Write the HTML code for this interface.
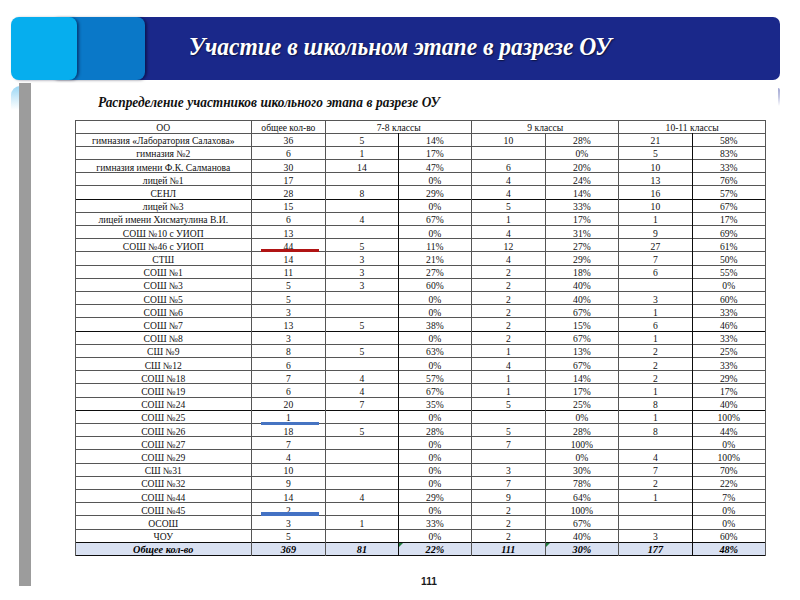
<!DOCTYPE html>
<html><head><meta charset="utf-8">
<style>
html,body{margin:0;padding:0;background:#fff;}
body{width:800px;height:600px;position:relative;overflow:hidden;font-family:"Liberation Serif",serif;}
.c{position:absolute;text-align:center;font-size:9.6px;color:#111;white-space:nowrap;font-family:"Liberation Serif",serif;}
.c.t{font-weight:bold;font-style:italic;font-size:10.2px;color:#000;}
.h{position:absolute;height:1px;background:#565656;}
.v{position:absolute;width:1px;background:#565656;}
.h.d{background:#0c0c0c;height:1.25px;}
.v.d{background:#0c0c0c;width:1.3px;}
#bar{position:absolute;left:19px;top:83px;width:11.5px;height:503px;background:#9c9c9c;}
#glow{position:absolute;left:10.5px;top:85.5px;width:9px;height:24px;border-radius:9px 0 0 0;background:linear-gradient(to bottom,rgba(90,190,240,0.62),rgba(120,200,240,0.35) 50%,rgba(120,200,240,0));}
#glowr{position:absolute;left:777.6px;top:88px;width:2.2px;height:18px;border-radius:0 2px 0 0;background:linear-gradient(to bottom,rgba(140,146,200,0.8),rgba(150,156,205,0.55) 50%,rgba(150,156,205,0));}
#dark{position:absolute;left:120px;top:17px;width:660px;height:63.2px;background:#1a288a;border-radius:7px;}
#mid{position:absolute;left:50px;top:17px;width:94.7px;height:63.2px;background:#0a78c8;border-radius:8px;box-shadow:2px 0.5px 3px -0.5px rgba(0,0,30,0.5);}
#light{position:absolute;left:11px;top:17px;width:66.2px;height:63.2px;background:#06aeee;border-radius:8px;box-shadow:2px 0.5px 3px -0.5px rgba(0,0,40,0.5);}
#title{position:absolute;left:0px;top:17px;width:800px;height:63px;line-height:59.5px;text-align:center;color:#fff;font-weight:bold;font-style:italic;font-size:24.8px;transform:scaleX(0.948);text-shadow:1px 1px 1.5px rgba(0,0,0,0.55);white-space:nowrap;}
#sub{position:absolute;left:97.5px;top:94.5px;word-spacing:0.2px;font-weight:bold;font-style:italic;font-size:13.8px;color:#111;white-space:nowrap;transform-origin:0 0;transform:scaleX(0.968);}
#pn{position:absolute;left:399px;top:575.1px;width:60px;text-align:center;font-family:"Liberation Sans",sans-serif;font-weight:bold;font-size:10.6px;transform:scaleX(0.96);color:#1a1a1a;}
</style></head><body>
<div id="glow"></div><div id="bar"></div><div id="glowr"></div>
<div id="dark"></div><div id="mid"></div><div id="light"></div>
<div id="title">Участие в школьном этапе в разрезе ОУ</div>
<div id="sub">Распределение участников школьного этапа в разрезе ОУ</div>
<div style="position:absolute;left:75.5px;top:542.30px;width:690.0px;height:13.20px;background:#d9e1f2"></div>
<div class="c " style="left:75.50px;top:120.00px;width:175.50px;height:13.20px;line-height:16.60px">ОО</div>
<div class="c " style="left:251.00px;top:120.00px;width:74.75px;height:13.20px;line-height:16.60px">общее кол-во</div>
<div class="c " style="left:325.75px;top:120.00px;width:146.00px;height:13.20px;line-height:16.60px">7-8 классы</div>
<div class="c " style="left:471.75px;top:120.00px;width:147.00px;height:13.20px;line-height:16.60px">9 классы</div>
<div class="c " style="left:618.75px;top:120.00px;width:146.75px;height:13.20px;line-height:16.60px">10-11 классы</div>
<div class="c " style="left:75.50px;top:133.20px;width:175.50px;height:13.20px;line-height:16.60px">гимназия «Лаборатория Салахова»</div>
<div class="c " style="left:251.00px;top:133.20px;width:74.75px;height:13.20px;line-height:16.60px">36</div>
<div class="c " style="left:325.75px;top:133.20px;width:72.25px;height:13.20px;line-height:16.60px">5</div>
<div class="c " style="left:398.00px;top:133.20px;width:73.75px;height:13.20px;line-height:16.60px">14%</div>
<div class="c " style="left:471.75px;top:133.20px;width:73.25px;height:13.20px;line-height:16.60px">10</div>
<div class="c " style="left:545.00px;top:133.20px;width:73.75px;height:13.20px;line-height:16.60px">28%</div>
<div class="c " style="left:618.75px;top:133.20px;width:73.25px;height:13.20px;line-height:16.60px">21</div>
<div class="c " style="left:692.00px;top:133.20px;width:73.50px;height:13.20px;line-height:16.60px">58%</div>
<div class="c " style="left:75.50px;top:146.39px;width:175.50px;height:13.20px;line-height:16.60px">гимназия №2</div>
<div class="c " style="left:251.00px;top:146.39px;width:74.75px;height:13.20px;line-height:16.60px">6</div>
<div class="c " style="left:325.75px;top:146.39px;width:72.25px;height:13.20px;line-height:16.60px">1</div>
<div class="c " style="left:398.00px;top:146.39px;width:73.75px;height:13.20px;line-height:16.60px">17%</div>
<div class="c " style="left:545.00px;top:146.39px;width:73.75px;height:13.20px;line-height:16.60px">0%</div>
<div class="c " style="left:618.75px;top:146.39px;width:73.25px;height:13.20px;line-height:16.60px">5</div>
<div class="c " style="left:692.00px;top:146.39px;width:73.50px;height:13.20px;line-height:16.60px">83%</div>
<div class="c " style="left:75.50px;top:159.59px;width:175.50px;height:13.20px;line-height:16.60px">гимназия имени Ф.К. Салманова</div>
<div class="c " style="left:251.00px;top:159.59px;width:74.75px;height:13.20px;line-height:16.60px">30</div>
<div class="c " style="left:325.75px;top:159.59px;width:72.25px;height:13.20px;line-height:16.60px">14</div>
<div class="c " style="left:398.00px;top:159.59px;width:73.75px;height:13.20px;line-height:16.60px">47%</div>
<div class="c " style="left:471.75px;top:159.59px;width:73.25px;height:13.20px;line-height:16.60px">6</div>
<div class="c " style="left:545.00px;top:159.59px;width:73.75px;height:13.20px;line-height:16.60px">20%</div>
<div class="c " style="left:618.75px;top:159.59px;width:73.25px;height:13.20px;line-height:16.60px">10</div>
<div class="c " style="left:692.00px;top:159.59px;width:73.50px;height:13.20px;line-height:16.60px">33%</div>
<div class="c " style="left:75.50px;top:172.79px;width:175.50px;height:13.20px;line-height:16.60px">лицей №1</div>
<div class="c " style="left:251.00px;top:172.79px;width:74.75px;height:13.20px;line-height:16.60px">17</div>
<div class="c " style="left:398.00px;top:172.79px;width:73.75px;height:13.20px;line-height:16.60px">0%</div>
<div class="c " style="left:471.75px;top:172.79px;width:73.25px;height:13.20px;line-height:16.60px">4</div>
<div class="c " style="left:545.00px;top:172.79px;width:73.75px;height:13.20px;line-height:16.60px">24%</div>
<div class="c " style="left:618.75px;top:172.79px;width:73.25px;height:13.20px;line-height:16.60px">13</div>
<div class="c " style="left:692.00px;top:172.79px;width:73.50px;height:13.20px;line-height:16.60px">76%</div>
<div class="c " style="left:75.50px;top:185.98px;width:175.50px;height:13.20px;line-height:16.60px">СЕНЛ</div>
<div class="c " style="left:251.00px;top:185.98px;width:74.75px;height:13.20px;line-height:16.60px">28</div>
<div class="c " style="left:325.75px;top:185.98px;width:72.25px;height:13.20px;line-height:16.60px">8</div>
<div class="c " style="left:398.00px;top:185.98px;width:73.75px;height:13.20px;line-height:16.60px">29%</div>
<div class="c " style="left:471.75px;top:185.98px;width:73.25px;height:13.20px;line-height:16.60px">4</div>
<div class="c " style="left:545.00px;top:185.98px;width:73.75px;height:13.20px;line-height:16.60px">14%</div>
<div class="c " style="left:618.75px;top:185.98px;width:73.25px;height:13.20px;line-height:16.60px">16</div>
<div class="c " style="left:692.00px;top:185.98px;width:73.50px;height:13.20px;line-height:16.60px">57%</div>
<div class="c " style="left:75.50px;top:199.18px;width:175.50px;height:13.20px;line-height:16.60px">лицей №3</div>
<div class="c " style="left:251.00px;top:199.18px;width:74.75px;height:13.20px;line-height:16.60px">15</div>
<div class="c " style="left:398.00px;top:199.18px;width:73.75px;height:13.20px;line-height:16.60px">0%</div>
<div class="c " style="left:471.75px;top:199.18px;width:73.25px;height:13.20px;line-height:16.60px">5</div>
<div class="c " style="left:545.00px;top:199.18px;width:73.75px;height:13.20px;line-height:16.60px">33%</div>
<div class="c " style="left:618.75px;top:199.18px;width:73.25px;height:13.20px;line-height:16.60px">10</div>
<div class="c " style="left:692.00px;top:199.18px;width:73.50px;height:13.20px;line-height:16.60px">67%</div>
<div class="c " style="left:75.50px;top:212.38px;width:175.50px;height:13.20px;line-height:16.60px">лицей имени Хисматулина В.И.</div>
<div class="c " style="left:251.00px;top:212.38px;width:74.75px;height:13.20px;line-height:16.60px">6</div>
<div class="c " style="left:325.75px;top:212.38px;width:72.25px;height:13.20px;line-height:16.60px">4</div>
<div class="c " style="left:398.00px;top:212.38px;width:73.75px;height:13.20px;line-height:16.60px">67%</div>
<div class="c " style="left:471.75px;top:212.38px;width:73.25px;height:13.20px;line-height:16.60px">1</div>
<div class="c " style="left:545.00px;top:212.38px;width:73.75px;height:13.20px;line-height:16.60px">17%</div>
<div class="c " style="left:618.75px;top:212.38px;width:73.25px;height:13.20px;line-height:16.60px">1</div>
<div class="c " style="left:692.00px;top:212.38px;width:73.50px;height:13.20px;line-height:16.60px">17%</div>
<div class="c " style="left:75.50px;top:225.58px;width:175.50px;height:13.20px;line-height:16.60px">СОШ №10 с УИОП</div>
<div class="c " style="left:251.00px;top:225.58px;width:74.75px;height:13.20px;line-height:16.60px">13</div>
<div class="c " style="left:398.00px;top:225.58px;width:73.75px;height:13.20px;line-height:16.60px">0%</div>
<div class="c " style="left:471.75px;top:225.58px;width:73.25px;height:13.20px;line-height:16.60px">4</div>
<div class="c " style="left:545.00px;top:225.58px;width:73.75px;height:13.20px;line-height:16.60px">31%</div>
<div class="c " style="left:618.75px;top:225.58px;width:73.25px;height:13.20px;line-height:16.60px">9</div>
<div class="c " style="left:692.00px;top:225.58px;width:73.50px;height:13.20px;line-height:16.60px">69%</div>
<div class="c " style="left:75.50px;top:238.77px;width:175.50px;height:13.20px;line-height:16.60px">СОШ №46 с УИОП</div>
<div class="c " style="left:251.00px;top:238.77px;width:74.75px;height:13.20px;line-height:16.60px">44</div>
<div class="c " style="left:325.75px;top:238.77px;width:72.25px;height:13.20px;line-height:16.60px">5</div>
<div class="c " style="left:398.00px;top:238.77px;width:73.75px;height:13.20px;line-height:16.60px">11%</div>
<div class="c " style="left:471.75px;top:238.77px;width:73.25px;height:13.20px;line-height:16.60px">12</div>
<div class="c " style="left:545.00px;top:238.77px;width:73.75px;height:13.20px;line-height:16.60px">27%</div>
<div class="c " style="left:618.75px;top:238.77px;width:73.25px;height:13.20px;line-height:16.60px">27</div>
<div class="c " style="left:692.00px;top:238.77px;width:73.50px;height:13.20px;line-height:16.60px">61%</div>
<div class="c " style="left:75.50px;top:251.97px;width:175.50px;height:13.20px;line-height:16.60px">СТШ</div>
<div class="c " style="left:251.00px;top:251.97px;width:74.75px;height:13.20px;line-height:16.60px">14</div>
<div class="c " style="left:325.75px;top:251.97px;width:72.25px;height:13.20px;line-height:16.60px">3</div>
<div class="c " style="left:398.00px;top:251.97px;width:73.75px;height:13.20px;line-height:16.60px">21%</div>
<div class="c " style="left:471.75px;top:251.97px;width:73.25px;height:13.20px;line-height:16.60px">4</div>
<div class="c " style="left:545.00px;top:251.97px;width:73.75px;height:13.20px;line-height:16.60px">29%</div>
<div class="c " style="left:618.75px;top:251.97px;width:73.25px;height:13.20px;line-height:16.60px">7</div>
<div class="c " style="left:692.00px;top:251.97px;width:73.50px;height:13.20px;line-height:16.60px">50%</div>
<div class="c " style="left:75.50px;top:265.17px;width:175.50px;height:13.20px;line-height:16.60px">СОШ №1</div>
<div class="c " style="left:251.00px;top:265.17px;width:74.75px;height:13.20px;line-height:16.60px">11</div>
<div class="c " style="left:325.75px;top:265.17px;width:72.25px;height:13.20px;line-height:16.60px">3</div>
<div class="c " style="left:398.00px;top:265.17px;width:73.75px;height:13.20px;line-height:16.60px">27%</div>
<div class="c " style="left:471.75px;top:265.17px;width:73.25px;height:13.20px;line-height:16.60px">2</div>
<div class="c " style="left:545.00px;top:265.17px;width:73.75px;height:13.20px;line-height:16.60px">18%</div>
<div class="c " style="left:618.75px;top:265.17px;width:73.25px;height:13.20px;line-height:16.60px">6</div>
<div class="c " style="left:692.00px;top:265.17px;width:73.50px;height:13.20px;line-height:16.60px">55%</div>
<div class="c " style="left:75.50px;top:278.36px;width:175.50px;height:13.20px;line-height:16.60px">СОШ №3</div>
<div class="c " style="left:251.00px;top:278.36px;width:74.75px;height:13.20px;line-height:16.60px">5</div>
<div class="c " style="left:325.75px;top:278.36px;width:72.25px;height:13.20px;line-height:16.60px">3</div>
<div class="c " style="left:398.00px;top:278.36px;width:73.75px;height:13.20px;line-height:16.60px">60%</div>
<div class="c " style="left:471.75px;top:278.36px;width:73.25px;height:13.20px;line-height:16.60px">2</div>
<div class="c " style="left:545.00px;top:278.36px;width:73.75px;height:13.20px;line-height:16.60px">40%</div>
<div class="c " style="left:692.00px;top:278.36px;width:73.50px;height:13.20px;line-height:16.60px">0%</div>
<div class="c " style="left:75.50px;top:291.56px;width:175.50px;height:13.20px;line-height:16.60px">СОШ №5</div>
<div class="c " style="left:251.00px;top:291.56px;width:74.75px;height:13.20px;line-height:16.60px">5</div>
<div class="c " style="left:398.00px;top:291.56px;width:73.75px;height:13.20px;line-height:16.60px">0%</div>
<div class="c " style="left:471.75px;top:291.56px;width:73.25px;height:13.20px;line-height:16.60px">2</div>
<div class="c " style="left:545.00px;top:291.56px;width:73.75px;height:13.20px;line-height:16.60px">40%</div>
<div class="c " style="left:618.75px;top:291.56px;width:73.25px;height:13.20px;line-height:16.60px">3</div>
<div class="c " style="left:692.00px;top:291.56px;width:73.50px;height:13.20px;line-height:16.60px">60%</div>
<div class="c " style="left:75.50px;top:304.76px;width:175.50px;height:13.20px;line-height:16.60px">СОШ №6</div>
<div class="c " style="left:251.00px;top:304.76px;width:74.75px;height:13.20px;line-height:16.60px">3</div>
<div class="c " style="left:398.00px;top:304.76px;width:73.75px;height:13.20px;line-height:16.60px">0%</div>
<div class="c " style="left:471.75px;top:304.76px;width:73.25px;height:13.20px;line-height:16.60px">2</div>
<div class="c " style="left:545.00px;top:304.76px;width:73.75px;height:13.20px;line-height:16.60px">67%</div>
<div class="c " style="left:618.75px;top:304.76px;width:73.25px;height:13.20px;line-height:16.60px">1</div>
<div class="c " style="left:692.00px;top:304.76px;width:73.50px;height:13.20px;line-height:16.60px">33%</div>
<div class="c " style="left:75.50px;top:317.95px;width:175.50px;height:13.20px;line-height:16.60px">СОШ №7</div>
<div class="c " style="left:251.00px;top:317.95px;width:74.75px;height:13.20px;line-height:16.60px">13</div>
<div class="c " style="left:325.75px;top:317.95px;width:72.25px;height:13.20px;line-height:16.60px">5</div>
<div class="c " style="left:398.00px;top:317.95px;width:73.75px;height:13.20px;line-height:16.60px">38%</div>
<div class="c " style="left:471.75px;top:317.95px;width:73.25px;height:13.20px;line-height:16.60px">2</div>
<div class="c " style="left:545.00px;top:317.95px;width:73.75px;height:13.20px;line-height:16.60px">15%</div>
<div class="c " style="left:618.75px;top:317.95px;width:73.25px;height:13.20px;line-height:16.60px">6</div>
<div class="c " style="left:692.00px;top:317.95px;width:73.50px;height:13.20px;line-height:16.60px">46%</div>
<div class="c " style="left:75.50px;top:331.15px;width:175.50px;height:13.20px;line-height:16.60px">СОШ №8</div>
<div class="c " style="left:251.00px;top:331.15px;width:74.75px;height:13.20px;line-height:16.60px">3</div>
<div class="c " style="left:398.00px;top:331.15px;width:73.75px;height:13.20px;line-height:16.60px">0%</div>
<div class="c " style="left:471.75px;top:331.15px;width:73.25px;height:13.20px;line-height:16.60px">2</div>
<div class="c " style="left:545.00px;top:331.15px;width:73.75px;height:13.20px;line-height:16.60px">67%</div>
<div class="c " style="left:618.75px;top:331.15px;width:73.25px;height:13.20px;line-height:16.60px">1</div>
<div class="c " style="left:692.00px;top:331.15px;width:73.50px;height:13.20px;line-height:16.60px">33%</div>
<div class="c " style="left:75.50px;top:344.35px;width:175.50px;height:13.20px;line-height:16.60px">СШ №9</div>
<div class="c " style="left:251.00px;top:344.35px;width:74.75px;height:13.20px;line-height:16.60px">8</div>
<div class="c " style="left:325.75px;top:344.35px;width:72.25px;height:13.20px;line-height:16.60px">5</div>
<div class="c " style="left:398.00px;top:344.35px;width:73.75px;height:13.20px;line-height:16.60px">63%</div>
<div class="c " style="left:471.75px;top:344.35px;width:73.25px;height:13.20px;line-height:16.60px">1</div>
<div class="c " style="left:545.00px;top:344.35px;width:73.75px;height:13.20px;line-height:16.60px">13%</div>
<div class="c " style="left:618.75px;top:344.35px;width:73.25px;height:13.20px;line-height:16.60px">2</div>
<div class="c " style="left:692.00px;top:344.35px;width:73.50px;height:13.20px;line-height:16.60px">25%</div>
<div class="c " style="left:75.50px;top:357.55px;width:175.50px;height:13.20px;line-height:16.60px">СШ №12</div>
<div class="c " style="left:251.00px;top:357.55px;width:74.75px;height:13.20px;line-height:16.60px">6</div>
<div class="c " style="left:398.00px;top:357.55px;width:73.75px;height:13.20px;line-height:16.60px">0%</div>
<div class="c " style="left:471.75px;top:357.55px;width:73.25px;height:13.20px;line-height:16.60px">4</div>
<div class="c " style="left:545.00px;top:357.55px;width:73.75px;height:13.20px;line-height:16.60px">67%</div>
<div class="c " style="left:618.75px;top:357.55px;width:73.25px;height:13.20px;line-height:16.60px">2</div>
<div class="c " style="left:692.00px;top:357.55px;width:73.50px;height:13.20px;line-height:16.60px">33%</div>
<div class="c " style="left:75.50px;top:370.74px;width:175.50px;height:13.20px;line-height:16.60px">СОШ №18</div>
<div class="c " style="left:251.00px;top:370.74px;width:74.75px;height:13.20px;line-height:16.60px">7</div>
<div class="c " style="left:325.75px;top:370.74px;width:72.25px;height:13.20px;line-height:16.60px">4</div>
<div class="c " style="left:398.00px;top:370.74px;width:73.75px;height:13.20px;line-height:16.60px">57%</div>
<div class="c " style="left:471.75px;top:370.74px;width:73.25px;height:13.20px;line-height:16.60px">1</div>
<div class="c " style="left:545.00px;top:370.74px;width:73.75px;height:13.20px;line-height:16.60px">14%</div>
<div class="c " style="left:618.75px;top:370.74px;width:73.25px;height:13.20px;line-height:16.60px">2</div>
<div class="c " style="left:692.00px;top:370.74px;width:73.50px;height:13.20px;line-height:16.60px">29%</div>
<div class="c " style="left:75.50px;top:383.94px;width:175.50px;height:13.20px;line-height:16.60px">СОШ №19</div>
<div class="c " style="left:251.00px;top:383.94px;width:74.75px;height:13.20px;line-height:16.60px">6</div>
<div class="c " style="left:325.75px;top:383.94px;width:72.25px;height:13.20px;line-height:16.60px">4</div>
<div class="c " style="left:398.00px;top:383.94px;width:73.75px;height:13.20px;line-height:16.60px">67%</div>
<div class="c " style="left:471.75px;top:383.94px;width:73.25px;height:13.20px;line-height:16.60px">1</div>
<div class="c " style="left:545.00px;top:383.94px;width:73.75px;height:13.20px;line-height:16.60px">17%</div>
<div class="c " style="left:618.75px;top:383.94px;width:73.25px;height:13.20px;line-height:16.60px">1</div>
<div class="c " style="left:692.00px;top:383.94px;width:73.50px;height:13.20px;line-height:16.60px">17%</div>
<div class="c " style="left:75.50px;top:397.14px;width:175.50px;height:13.20px;line-height:16.60px">СОШ №24</div>
<div class="c " style="left:251.00px;top:397.14px;width:74.75px;height:13.20px;line-height:16.60px">20</div>
<div class="c " style="left:325.75px;top:397.14px;width:72.25px;height:13.20px;line-height:16.60px">7</div>
<div class="c " style="left:398.00px;top:397.14px;width:73.75px;height:13.20px;line-height:16.60px">35%</div>
<div class="c " style="left:471.75px;top:397.14px;width:73.25px;height:13.20px;line-height:16.60px">5</div>
<div class="c " style="left:545.00px;top:397.14px;width:73.75px;height:13.20px;line-height:16.60px">25%</div>
<div class="c " style="left:618.75px;top:397.14px;width:73.25px;height:13.20px;line-height:16.60px">8</div>
<div class="c " style="left:692.00px;top:397.14px;width:73.50px;height:13.20px;line-height:16.60px">40%</div>
<div class="c " style="left:75.50px;top:410.33px;width:175.50px;height:13.20px;line-height:16.60px">СОШ №25</div>
<div class="c " style="left:251.00px;top:410.33px;width:74.75px;height:13.20px;line-height:16.60px">1</div>
<div class="c " style="left:398.00px;top:410.33px;width:73.75px;height:13.20px;line-height:16.60px">0%</div>
<div class="c " style="left:545.00px;top:410.33px;width:73.75px;height:13.20px;line-height:16.60px">0%</div>
<div class="c " style="left:618.75px;top:410.33px;width:73.25px;height:13.20px;line-height:16.60px">1</div>
<div class="c " style="left:692.00px;top:410.33px;width:73.50px;height:13.20px;line-height:16.60px">100%</div>
<div class="c " style="left:75.50px;top:423.53px;width:175.50px;height:13.20px;line-height:16.60px">СОШ №26</div>
<div class="c " style="left:251.00px;top:423.53px;width:74.75px;height:13.20px;line-height:16.60px">18</div>
<div class="c " style="left:325.75px;top:423.53px;width:72.25px;height:13.20px;line-height:16.60px">5</div>
<div class="c " style="left:398.00px;top:423.53px;width:73.75px;height:13.20px;line-height:16.60px">28%</div>
<div class="c " style="left:471.75px;top:423.53px;width:73.25px;height:13.20px;line-height:16.60px">5</div>
<div class="c " style="left:545.00px;top:423.53px;width:73.75px;height:13.20px;line-height:16.60px">28%</div>
<div class="c " style="left:618.75px;top:423.53px;width:73.25px;height:13.20px;line-height:16.60px">8</div>
<div class="c " style="left:692.00px;top:423.53px;width:73.50px;height:13.20px;line-height:16.60px">44%</div>
<div class="c " style="left:75.50px;top:436.73px;width:175.50px;height:13.20px;line-height:16.60px">СОШ №27</div>
<div class="c " style="left:251.00px;top:436.73px;width:74.75px;height:13.20px;line-height:16.60px">7</div>
<div class="c " style="left:398.00px;top:436.73px;width:73.75px;height:13.20px;line-height:16.60px">0%</div>
<div class="c " style="left:471.75px;top:436.73px;width:73.25px;height:13.20px;line-height:16.60px">7</div>
<div class="c " style="left:545.00px;top:436.73px;width:73.75px;height:13.20px;line-height:16.60px">100%</div>
<div class="c " style="left:692.00px;top:436.73px;width:73.50px;height:13.20px;line-height:16.60px">0%</div>
<div class="c " style="left:75.50px;top:449.92px;width:175.50px;height:13.20px;line-height:16.60px">СОШ №29</div>
<div class="c " style="left:251.00px;top:449.92px;width:74.75px;height:13.20px;line-height:16.60px">4</div>
<div class="c " style="left:398.00px;top:449.92px;width:73.75px;height:13.20px;line-height:16.60px">0%</div>
<div class="c " style="left:545.00px;top:449.92px;width:73.75px;height:13.20px;line-height:16.60px">0%</div>
<div class="c " style="left:618.75px;top:449.92px;width:73.25px;height:13.20px;line-height:16.60px">4</div>
<div class="c " style="left:692.00px;top:449.92px;width:73.50px;height:13.20px;line-height:16.60px">100%</div>
<div class="c " style="left:75.50px;top:463.12px;width:175.50px;height:13.20px;line-height:16.60px">СШ №31</div>
<div class="c " style="left:251.00px;top:463.12px;width:74.75px;height:13.20px;line-height:16.60px">10</div>
<div class="c " style="left:398.00px;top:463.12px;width:73.75px;height:13.20px;line-height:16.60px">0%</div>
<div class="c " style="left:471.75px;top:463.12px;width:73.25px;height:13.20px;line-height:16.60px">3</div>
<div class="c " style="left:545.00px;top:463.12px;width:73.75px;height:13.20px;line-height:16.60px">30%</div>
<div class="c " style="left:618.75px;top:463.12px;width:73.25px;height:13.20px;line-height:16.60px">7</div>
<div class="c " style="left:692.00px;top:463.12px;width:73.50px;height:13.20px;line-height:16.60px">70%</div>
<div class="c " style="left:75.50px;top:476.32px;width:175.50px;height:13.20px;line-height:16.60px">СОШ №32</div>
<div class="c " style="left:251.00px;top:476.32px;width:74.75px;height:13.20px;line-height:16.60px">9</div>
<div class="c " style="left:398.00px;top:476.32px;width:73.75px;height:13.20px;line-height:16.60px">0%</div>
<div class="c " style="left:471.75px;top:476.32px;width:73.25px;height:13.20px;line-height:16.60px">7</div>
<div class="c " style="left:545.00px;top:476.32px;width:73.75px;height:13.20px;line-height:16.60px">78%</div>
<div class="c " style="left:618.75px;top:476.32px;width:73.25px;height:13.20px;line-height:16.60px">2</div>
<div class="c " style="left:692.00px;top:476.32px;width:73.50px;height:13.20px;line-height:16.60px">22%</div>
<div class="c " style="left:75.50px;top:489.52px;width:175.50px;height:13.20px;line-height:16.60px">СОШ №44</div>
<div class="c " style="left:251.00px;top:489.52px;width:74.75px;height:13.20px;line-height:16.60px">14</div>
<div class="c " style="left:325.75px;top:489.52px;width:72.25px;height:13.20px;line-height:16.60px">4</div>
<div class="c " style="left:398.00px;top:489.52px;width:73.75px;height:13.20px;line-height:16.60px">29%</div>
<div class="c " style="left:471.75px;top:489.52px;width:73.25px;height:13.20px;line-height:16.60px">9</div>
<div class="c " style="left:545.00px;top:489.52px;width:73.75px;height:13.20px;line-height:16.60px">64%</div>
<div class="c " style="left:618.75px;top:489.52px;width:73.25px;height:13.20px;line-height:16.60px">1</div>
<div class="c " style="left:692.00px;top:489.52px;width:73.50px;height:13.20px;line-height:16.60px">7%</div>
<div class="c " style="left:75.50px;top:502.71px;width:175.50px;height:13.20px;line-height:16.60px">СОШ №45</div>
<div class="c " style="left:251.00px;top:502.71px;width:74.75px;height:13.20px;line-height:16.60px">2</div>
<div class="c " style="left:398.00px;top:502.71px;width:73.75px;height:13.20px;line-height:16.60px">0%</div>
<div class="c " style="left:471.75px;top:502.71px;width:73.25px;height:13.20px;line-height:16.60px">2</div>
<div class="c " style="left:545.00px;top:502.71px;width:73.75px;height:13.20px;line-height:16.60px">100%</div>
<div class="c " style="left:692.00px;top:502.71px;width:73.50px;height:13.20px;line-height:16.60px">0%</div>
<div class="c " style="left:75.50px;top:515.91px;width:175.50px;height:13.20px;line-height:16.60px">ОСОШ</div>
<div class="c " style="left:251.00px;top:515.91px;width:74.75px;height:13.20px;line-height:16.60px">3</div>
<div class="c " style="left:325.75px;top:515.91px;width:72.25px;height:13.20px;line-height:16.60px">1</div>
<div class="c " style="left:398.00px;top:515.91px;width:73.75px;height:13.20px;line-height:16.60px">33%</div>
<div class="c " style="left:471.75px;top:515.91px;width:73.25px;height:13.20px;line-height:16.60px">2</div>
<div class="c " style="left:545.00px;top:515.91px;width:73.75px;height:13.20px;line-height:16.60px">67%</div>
<div class="c " style="left:692.00px;top:515.91px;width:73.50px;height:13.20px;line-height:16.60px">0%</div>
<div class="c " style="left:75.50px;top:529.11px;width:175.50px;height:13.20px;line-height:16.60px">ЧОУ</div>
<div class="c " style="left:251.00px;top:529.11px;width:74.75px;height:13.20px;line-height:16.60px">5</div>
<div class="c " style="left:398.00px;top:529.11px;width:73.75px;height:13.20px;line-height:16.60px">0%</div>
<div class="c " style="left:471.75px;top:529.11px;width:73.25px;height:13.20px;line-height:16.60px">2</div>
<div class="c " style="left:545.00px;top:529.11px;width:73.75px;height:13.20px;line-height:16.60px">40%</div>
<div class="c " style="left:618.75px;top:529.11px;width:73.25px;height:13.20px;line-height:16.60px">3</div>
<div class="c " style="left:692.00px;top:529.11px;width:73.50px;height:13.20px;line-height:16.60px">60%</div>
<div class="c t" style="left:75.50px;top:542.30px;width:175.50px;height:13.20px;line-height:16.60px">Общее кол-во</div>
<div class="c t" style="left:251.00px;top:542.30px;width:74.75px;height:13.20px;line-height:16.60px">369</div>
<div class="c t" style="left:325.75px;top:542.30px;width:72.25px;height:13.20px;line-height:16.60px">81</div>
<div class="c t" style="left:398.00px;top:542.30px;width:73.75px;height:13.20px;line-height:16.60px">22%</div>
<div class="c t" style="left:471.75px;top:542.30px;width:73.25px;height:13.20px;line-height:16.60px">111</div>
<div class="c t" style="left:545.00px;top:542.30px;width:73.75px;height:13.20px;line-height:16.60px">30%</div>
<div class="c t" style="left:618.75px;top:542.30px;width:73.25px;height:13.20px;line-height:16.60px">177</div>
<div class="c t" style="left:692.00px;top:542.30px;width:73.50px;height:13.20px;line-height:16.60px">48%</div>
<div class="h" style="left:75.00px;top:119.50px;width:691.00px"></div>
<div class="h" style="left:75.00px;top:132.70px;width:691.00px"></div>
<div class="h" style="left:75.00px;top:145.89px;width:691.00px"></div>
<div class="h" style="left:75.00px;top:159.09px;width:691.00px"></div>
<div class="h" style="left:75.00px;top:172.29px;width:691.00px"></div>
<div class="h" style="left:75.00px;top:185.48px;width:691.00px"></div>
<div class="h d" style="left:75.00px;top:198.68px;width:691.00px"></div>
<div class="h" style="left:75.00px;top:211.88px;width:691.00px"></div>
<div class="h" style="left:75.00px;top:225.08px;width:691.00px"></div>
<div class="h" style="left:75.00px;top:238.27px;width:691.00px"></div>
<div class="h" style="left:75.00px;top:251.47px;width:691.00px"></div>
<div class="h" style="left:75.00px;top:264.67px;width:691.00px"></div>
<div class="h" style="left:75.00px;top:277.86px;width:691.00px"></div>
<div class="h" style="left:75.00px;top:291.06px;width:691.00px"></div>
<div class="h" style="left:75.00px;top:304.26px;width:691.00px"></div>
<div class="h" style="left:75.00px;top:317.45px;width:691.00px"></div>
<div class="h d" style="left:75.00px;top:330.65px;width:691.00px"></div>
<div class="h" style="left:75.00px;top:343.85px;width:691.00px"></div>
<div class="h" style="left:75.00px;top:357.05px;width:691.00px"></div>
<div class="h" style="left:75.00px;top:370.24px;width:691.00px"></div>
<div class="h" style="left:75.00px;top:383.44px;width:691.00px"></div>
<div class="h" style="left:75.00px;top:396.64px;width:691.00px"></div>
<div class="h d" style="left:75.00px;top:409.83px;width:691.00px"></div>
<div class="h" style="left:75.00px;top:423.03px;width:691.00px"></div>
<div class="h" style="left:75.00px;top:436.23px;width:691.00px"></div>
<div class="h" style="left:75.00px;top:449.42px;width:691.00px"></div>
<div class="h" style="left:75.00px;top:462.62px;width:691.00px"></div>
<div class="h" style="left:75.00px;top:475.82px;width:691.00px"></div>
<div class="h" style="left:75.00px;top:489.02px;width:691.00px"></div>
<div class="h" style="left:75.00px;top:502.21px;width:691.00px"></div>
<div class="h" style="left:75.00px;top:515.41px;width:691.00px"></div>
<div class="h" style="left:75.00px;top:528.61px;width:691.00px"></div>
<div class="h d" style="left:75.00px;top:541.80px;width:691.00px"></div>
<div class="h d" style="left:75.00px;top:555.00px;width:691.00px"></div>
<div class="v" style="left:75.00px;top:120.00px;height:435.50px"></div>
<div class="v" style="left:250.50px;top:120.00px;height:435.50px"></div>
<div class="v" style="left:325.25px;top:120.00px;height:435.50px"></div>
<div class="v d" style="left:397.50px;top:133.20px;height:422.30px"></div>
<div class="v" style="left:471.25px;top:120.00px;height:435.50px"></div>
<div class="v" style="left:544.50px;top:133.20px;height:422.30px"></div>
<div class="v" style="left:618.25px;top:120.00px;height:435.50px"></div>
<div class="v d" style="left:691.50px;top:133.20px;height:422.30px"></div>
<div class="v" style="left:765.00px;top:120.00px;height:435.50px"></div>
<div style="position:absolute;left:398.50px;top:542.80px;width:0;height:0;border-top:4px solid #1e7a3c;border-right:4px solid transparent"></div>
<div style="position:absolute;left:545.50px;top:542.80px;width:0;height:0;border-top:4px solid #1e7a3c;border-right:4px solid transparent"></div>
<div style="position:absolute;left:260.8px;top:249px;width:58.5px;height:2.8px;background:#b01414"></div>
<div style="position:absolute;left:260.8px;top:422.2px;width:58.5px;height:2.6px;background:#4674c2"></div>
<div style="position:absolute;left:260.8px;top:512px;width:58.5px;height:4px;background:#4472c4"></div>
<div id="pn">111</div>
</body></html>
